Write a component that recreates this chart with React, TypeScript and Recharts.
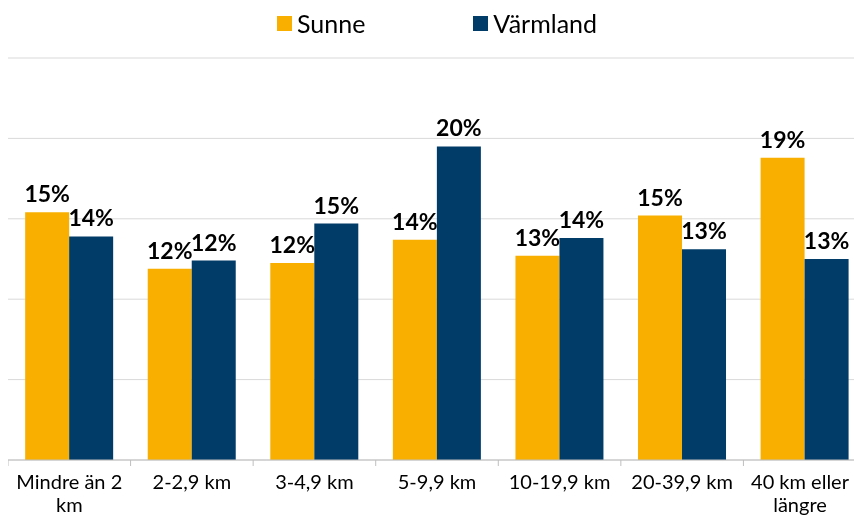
import { BarChart, Bar, XAxis, YAxis, CartesianGrid, Legend, LabelList } from 'recharts'

const categories = ['Mindre än 2 km', '2-2,9 km', '3-4,9 km', '5-9,9 km', '10-19,9 km', '20-39,9 km', '40 km eller längre']
const sunne = [0.154, 0.119, 0.1225, 0.137, 0.127, 0.152, 0.188]
const varmland = [0.139, 0.124, 0.147, 0.195, 0.138, 0.131, 0.125]
const yTicks = [0, 0.05, 0.1, 0.15, 0.2, 0.25]

const SUNNE = '#F8AF00'
const VARMLAND = '#013B68'

const W = 858
const H = 508
const VISIBLE = 846

const data = categories.map((name, i) => ({ name, sunne: sunne[i], varmland: varmland[i] }))

const pct = (v: any) => `${Math.round(Number(v) * 100)}%`

function CategoryTick(props: any) {
  const { x, y, payload } = props
  const text: string = payload.value
  let lines = [text]
  if (text.length > 12) {
    const cut = text.lastIndexOf(' ')
    lines = [text.slice(0, cut), text.slice(cut + 1)]
  }
  const band = W / categories.length
  // keep the last label inside the visible page
  const cx = Math.min(x, VISIBLE - 54)
  return (
    <g>
      <line x1={x - band / 2} x2={x - band / 2} y1={y} y2={y + 6} stroke="#bfbfbf" />
      {lines.map((l, i) => (
        <text
          key={i}
          x={cx}
          y={y + 29 + i * 23}
          textAnchor="middle"
          fontSize={20}
          fontFamily="Lato, sans-serif"
          fill="#000"
        >
          {l}
        </text>
      ))}
    </g>
  )
}

function LegendContent() {
  const item = (color: string, label: string) => (
    <div style={{ display: 'flex', alignItems: 'center', gap: 5 }}>
      <div style={{ width: 15, height: 15, background: color }} />
      <span style={{ fontSize: 25, fontFamily: 'Lato, sans-serif', color: '#000' }}>{label}</span>
    </div>
  )
  return (
    <div style={{ display: 'flex', justifyContent: 'center', gap: 108 }}>
      {item(SUNNE, 'Sunne')}
      {item(VARMLAND, 'Värmland')}
    </div>
  )
}

export default function App() {
  // fixed so the page never gets scrollbars
  return (
    <div style={{ position: 'fixed', top: 8, left: 8, width: VISIBLE, height: H, overflow: 'hidden' }}>
      <BarChart
        width={W}
        height={H}
        data={data}
        margin={{ top: 20, right: 0, bottom: 0, left: 0 }}
        barCategoryGap="14%"
        barGap={0}
      >
        <CartesianGrid vertical={false} stroke="#d9d9d9" />
        <Legend verticalAlign="top" content={<LegendContent />} wrapperStyle={{ top: 0, left: 0, width: W }} />
        <XAxis
          dataKey="name"
          height={56}
          interval={0}
          axisLine={{ stroke: '#bfbfbf' }}
          tickLine={false}
          tickSize={0}
          tickMargin={0}
          tick={<CategoryTick />}
        />
        <YAxis hide domain={[0, 0.25]} ticks={yTicks} width={0} />
        <Bar dataKey="sunne" name="Sunne" fill={SUNNE} isAnimationActive={false}>
          <LabelList
            dataKey="sunne"
            position="top"
            offset={10}
            formatter={pct}
            fill="#000"
            fontSize={23}
            fontWeight="bold"
            fontFamily="Lato, sans-serif"
          />
        </Bar>
        <Bar dataKey="varmland" name="Värmland" fill={VARMLAND} isAnimationActive={false}>
          <LabelList
            dataKey="varmland"
            position="top"
            offset={10}
            formatter={pct}
            fill="#000"
            fontSize={23}
            fontWeight="bold"
            fontFamily="Lato, sans-serif"
          />
        </Bar>
      </BarChart>
    </div>
  )
}
